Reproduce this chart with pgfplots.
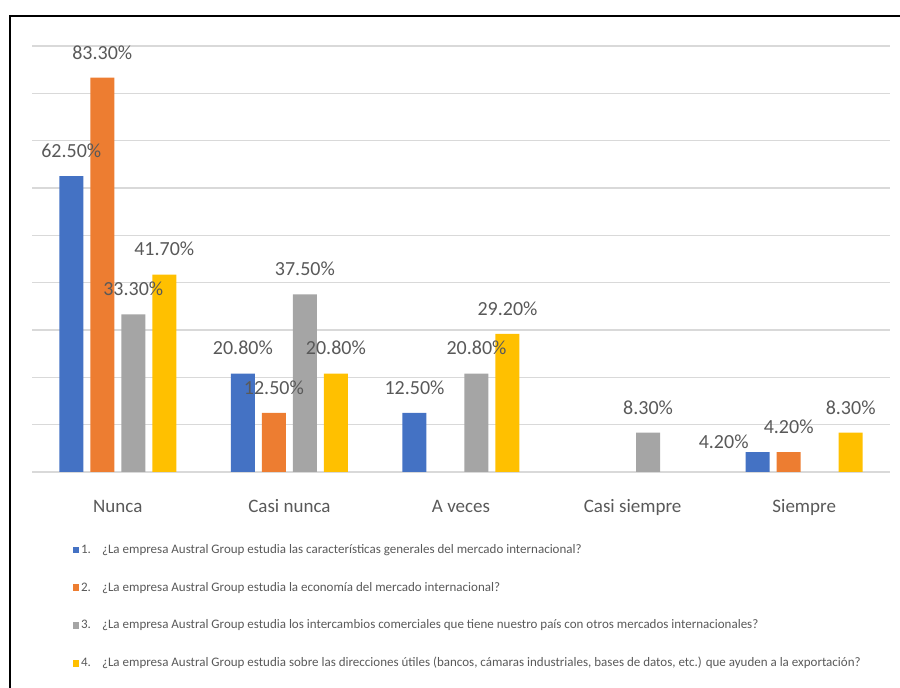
\documentclass[border=0pt]{standalone}
\usepackage{pgfplots}
\pgfplotsset{compat=1.18}
\usepackage{fontspec}
\setmainfont{Carlito}
\definecolor{cblue}{RGB}{68,114,196}
\definecolor{corange}{RGB}{237,125,49}
\definecolor{cgray}{RGB}{165,165,165}
\definecolor{cyellow}{RGB}{255,192,0}
\definecolor{txt}{RGB}{89,89,89}
\definecolor{gridc}{RGB}{217,217,217}
\pgfplotsset{sqlegend/.style={legend image code/.code={\fill[##1] (0pt,-1.7pt) rectangle (3pt,1.7pt);}}}
\begin{document}
\begin{tikzpicture}
\begin{axis}[
  scale only axis, width=429pt, height=213pt,
  xmin=-0.5, xmax=4.5, ymin=0, ymax=90,
  ybar=3.5pt, bar width=12pt,
  xtick={0,1,2,3,4},
  xticklabels={Nunca, Casi nunca, A veces, Casi siempre, Siempre},
  ytick={0,10,...,90}, yticklabels={},
  ymajorgrids, major grid style={draw=gridc, line width=0.8pt},
  axis line style={draw=none}, major tick length=0pt,
  xticklabel style={font=\fontsize{9.5}{11}\selectfont, text=txt, anchor=base, yshift=-20.5pt},
  /pgf/number format/assume math mode=true,
  nodes near coords={\pgfmathprintnumber[fixed,fixed zerofill,precision=2]{\pgfplotspointmeta}\%},
  every node near coord/.append style={font=\fontsize{10}{12}\selectfont, text=txt, anchor=base, yshift=9.35pt},
  every axis plot post/.append style={sqlegend},
  legend style={draw=none, fill=none, inner sep=0pt, outer sep=0pt,
    at={(0.0478,-0.165)}, anchor=north west,
    font=\fontsize{6.5}{7}\selectfont, text=txt, row sep=11.2pt,
    nodes={inner xsep=1pt, inner ysep=1pt, text height=4.5pt, text depth=1.2pt}},
  legend cell align=left,
]
\addplot[fill=cblue, draw=none,
  visualization depends on={value \thisrow{dx}\as\myDX},
  visualization depends on={value \thisrow{dy}\as\myDY},
  nodes near coords style={xshift=\myDX pt, yshift=\myDY pt}]
  table[x=x, y=y] {
x y dx dy
0 62.5 0 0
1 20.8 0 0
2 12.5 0 0
4 4.2 -17 -7.5
};
\addlegendentry{\makebox[10.5pt][l]{1.}¿La empresa Austral Group estudia las características generales del mercado internacional?}
\addplot[fill=corange, draw=none] coordinates {(0,83.3) (1,12.5) (4,4.2)};
\addlegendentry{\makebox[10.5pt][l]{2.}¿La empresa Austral Group estudia la economía del mercado internacional?}
\addplot[fill=cgray, draw=none] coordinates {(0,33.3) (1,37.5) (2,20.8) (3,8.3)};
\addlegendentry{\makebox[10.5pt][l]{3.}¿La empresa Austral Group estudia los intercambios comerciales que tiene nuestro país con otros mercados internacionales?}
\addplot[fill=cyellow, draw=none] coordinates {(0,41.7) (1,20.8) (2,29.2) (4,8.3)};
\addlegendentry{\makebox[10.5pt][l]{4.}¿La empresa Austral Group estudia sobre las direcciones útiles (bancos, cámaras industriales, bases de datos, etc.) que ayuden a la exportación?}
\end{axis}
\draw[line width=1.2pt] (-11pt,-110pt) -- (-11pt,228pt) -- (436pt,228pt);
\pgfresetboundingbox
\path[use as bounding box] (-16pt,-108pt) rectangle (434pt,236pt);
\end{tikzpicture}
\end{document}
